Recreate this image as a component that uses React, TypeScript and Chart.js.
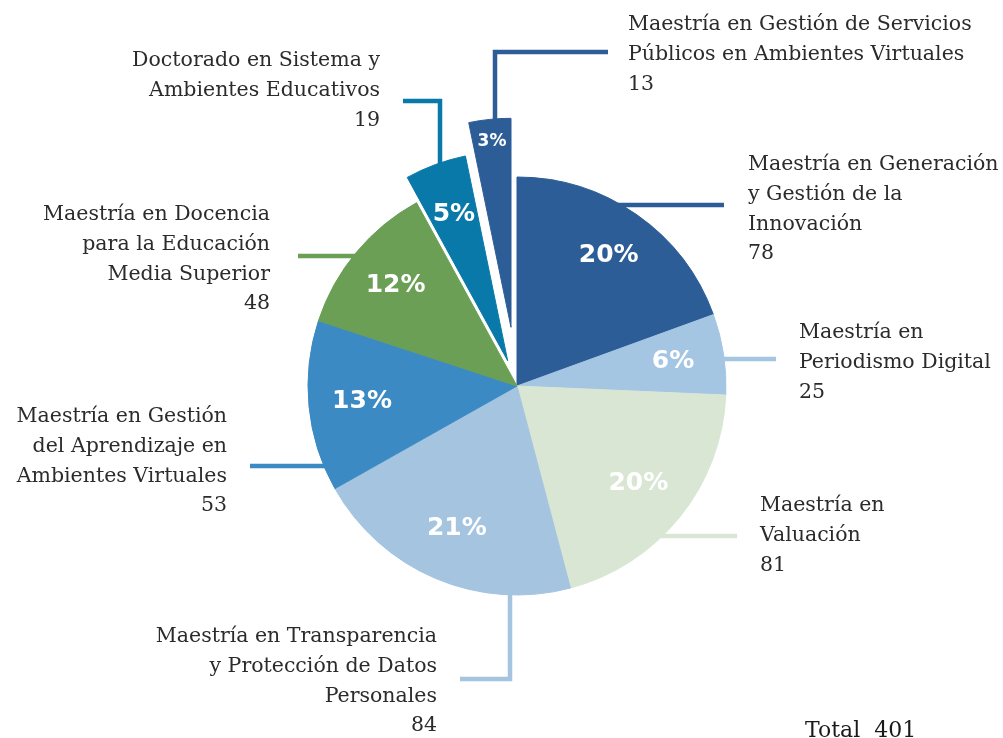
import React, { useEffect, useRef } from "react";
import { Chart, registerables } from "chart.js";

Chart.register(...registerables);

// ---------- data ----------
const programs: string[] = [
  "Maestría en Generación|y Gestión de la|Innovación",
  "Maestría en|Periodismo Digital",
  "Maestría en|Valuación",
  "Maestría en Transparencia|y Protección de Datos|Personales",
  "Maestría en Gestión|del Aprendizaje en|Ambientes Virtuales",
  "Maestría en Docencia|para la Educación|Media Superior",
  "Doctorado en Sistema y|Ambientes Educativos",
  "Maestría en Gestión de Servicios|Públicos en Ambientes Virtuales",
];
const values: number[] = [78, 25, 81, 84, 53, 48, 19, 13];
const percentLabels: string[] = ["20%", "6%", "20%", "21%", "13%", "12%", "5%", "3%"];
const totalLabel = "Total";

// ---------- styles / layout ----------
const colors = ["#2d5d96", "#a4c6e2", "#d8e6d3", "#a5c4e0", "#3b8ac3", "#6a9f55", "#0879a8", "#2d5d96"];
const explode = [0, 0, 0, 0, 0, 0, 27, 59];
const pctRadius = [0.765, 0.755, 0.745, 0.74, 0.745, 0.755, 0.745, 0.895];
const pctFont = [25, 25, 25, 25, 25, 25, 25, 17];

type Block = { x: number; y: number; align: CanvasTextAlign };
const labelBlocks: Block[] = [
  { x: 748, y: 165, align: "left" },
  { x: 799, y: 333, align: "left" },
  { x: 760, y: 506, align: "left" },
  { x: 437, y: 637, align: "right" },
  { x: 227, y: 417, align: "right" },
  { x: 270, y: 215, align: "right" },
  { x: 380, y: 61, align: "right" },
  { x: 628, y: 25, align: "left" },
];
const leaderLines: number[][][] = [
  [[600, 205], [724, 205]],
  [[700, 359], [776, 359]],
  [[640, 536], [737, 536]],
  [[510, 570], [510, 679], [460, 679]],
  [[345, 466], [250, 466]],
  [[375, 256], [298, 256]],
  [[440, 190], [440, 101], [403, 101]],
  [[495, 150], [495, 52], [608, 52]],
];
const LINE_H = 29.6;
const TEXT_FONT = '20.5px "DejaVu Serif"';
const TEXT_COLOR = "#2b2b2b";

const overlayPlugin = {
  id: "overlay",
  beforeDatasetsDraw(chart: any) {
    const ctx = chart.ctx as CanvasRenderingContext2D;
    ctx.save();
    ctx.lineWidth = 4.5;
    ctx.lineCap = "butt";
    ctx.lineJoin = "miter";
    leaderLines.forEach((pts, i) => {
      ctx.strokeStyle = colors[i];
      ctx.beginPath();
      pts.forEach((p, k) => (k === 0 ? ctx.moveTo(p[0], p[1]) : ctx.lineTo(p[0], p[1])));
      ctx.stroke();
    });
    ctx.restore();
  },
  beforeDatasetDraw(chart: any, args: any) {
    const ctx = chart.ctx as CanvasRenderingContext2D;
    const meta = args.meta;
    meta.data.forEach((arc: any, i: number) => {
      const mid = (arc.startAngle + arc.endAngle) / 2;
      const d = explode[i] || 0;
      ctx.save();
      ctx.translate(Math.cos(mid) * d, Math.sin(mid) * d);
      arc.draw(ctx);
      ctx.restore();
    });
    return false;
  },
  afterDatasetsDraw(chart: any) {
    const ctx = chart.ctx as CanvasRenderingContext2D;
    const meta = chart.getDatasetMeta(0);
    ctx.save();
    // percentage labels
    meta.data.forEach((arc: any, i: number) => {
      const mid = (arc.startAngle + arc.endAngle) / 2;
      const d = (explode[i] || 0) + arc.outerRadius * pctRadius[i];
      const x = arc.x + Math.cos(mid) * d;
      const y = arc.y + Math.sin(mid) * d;
      ctx.font = `bold ${pctFont[i]}px "DejaVu Sans"`;
      ctx.fillStyle = "#ffffff";
      ctx.textAlign = "center";
      ctx.textBaseline = "middle";
      ctx.fillText(percentLabels[i], x, y);
    });
    // category labels
    ctx.font = TEXT_FONT;
    ctx.fillStyle = TEXT_COLOR;
    ctx.textBaseline = "middle";
    programs.forEach((name, i) => {
      const b = labelBlocks[i];
      const lines = [...name.split("|"), String(values[i])];
      ctx.textAlign = b.align;
      lines.forEach((ln, k) => ctx.fillText(ln, b.x, b.y + k * LINE_H));
    });
    // total
    const total = values.reduce((a, v) => a + v, 0);
    ctx.font = '22px "DejaVu Serif"';
    ctx.fillStyle = "#1a1a1a";
    ctx.textAlign = "left";
    ctx.fillText(`${totalLabel}  ${total}`, 805, 731);
    ctx.restore();
  },
};

export default function App() {
  const ref = useRef<HTMLCanvasElement | null>(null);
  useEffect(() => {
    if (!ref.current) return;
    const chart = new Chart(ref.current, {
      type: "pie",
      data: {
        labels: programs.map((p) => p.replace(/\|/g, " ")),
        datasets: [
          {
            data: values,
            backgroundColor: colors,
            borderColor: colors,
            borderWidth: 1,
          },
        ],
      },
      options: {
        responsive: false,
        animation: false,
        devicePixelRatio: 1,
        radius: 209,
        layout: { padding: { left: 31, right: 0, top: 34, bottom: 0 } },
        plugins: { legend: { display: false }, tooltip: { enabled: false } },
      } as any,
      plugins: [overlayPlugin as any],
    });
    return () => chart.destroy();
  }, []);
  return (
    <div style={{ position: "absolute", left: 0, top: 0, width: 1003, height: 738, background: "#fff" }}>
      <canvas ref={ref} width={1003} height={738} style={{ display: "block" }} />
    </div>
  );
}
